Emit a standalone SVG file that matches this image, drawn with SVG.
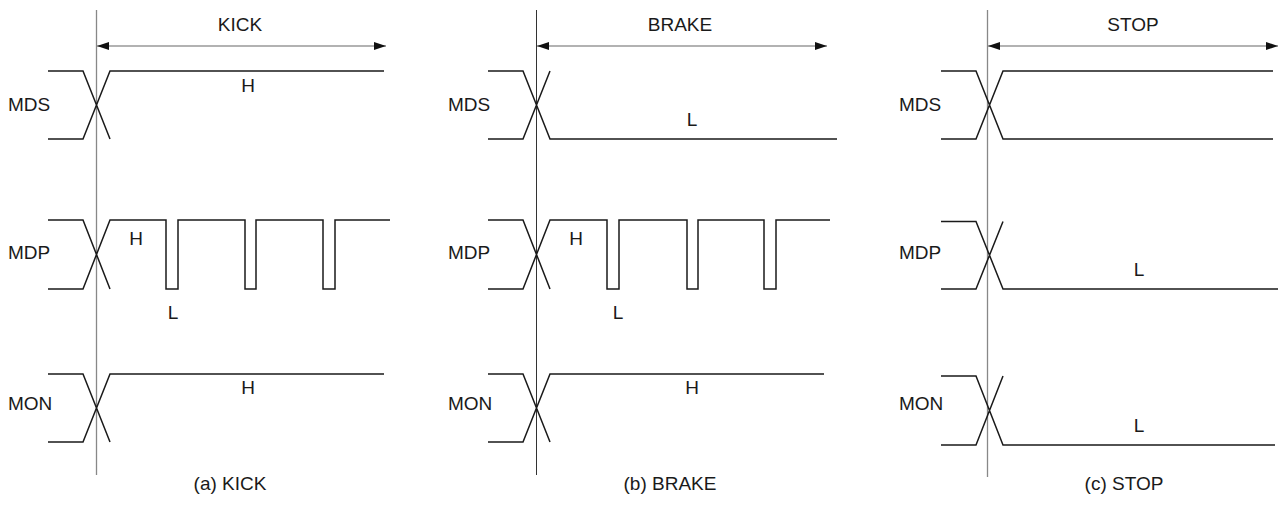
<svg xmlns="http://www.w3.org/2000/svg" width="1285" height="519" viewBox="0 0 1285 519">
<style>
text{font-family:"Liberation Sans",Arial,sans-serif;font-size:19px;fill:#1a1a1a}
.c{text-anchor:middle}
.sig{fill:none;stroke:#1a1a1a;stroke-width:1.5}
.vl{stroke:#888;stroke-width:1.3}
.vb{stroke:#333;stroke-width:1}
.ar{stroke:#999;stroke-width:1.5;marker-start:url(#ah);marker-end:url(#ah)}
</style>
<defs>
<marker id="ah" viewBox="0 0 12 8" refX="12" refY="4" markerWidth="12" markerHeight="8" markerUnits="userSpaceOnUse" orient="auto-start-reverse">
<path d="M0,0 L12,4 L0,8 Z" fill="#111"/>
</marker>
</defs>
<g id="connectors">
<line class="vl" x1="96.5" y1="10" x2="96.5" y2="475"/>
<line class="ar" x1="97" y1="46" x2="386" y2="46"/>
<line class="vb" x1="536.5" y1="10" x2="536.5" y2="475"/>
<line class="ar" x1="537" y1="46" x2="827" y2="46"/>
<line class="vl" x1="987.5" y1="10" x2="987.5" y2="477"/>
<line class="ar" x1="988" y1="46" x2="1278" y2="46"/>
</g>
<g id="panel-a">
<text class="c" x="240" y="31">KICK</text>
<g id="a-mds">
<text x="8" y="111">MDS</text>
<path class="sig" d="M48,71 H83 L110,139 M48,139 H83 L110,71 H384"/>
<text class="c" x="248" y="92">H</text>
</g>
<g id="a-mdp">
<text x="8" y="259">MDP</text>
<path class="sig" d="M48,220 H83 L110,289 M48,289 H83 L110,220 H166 V289 H178 V220 H245 V289 H256 V220 H323 V289 H335 V220 H390"/>
<text class="c" x="136" y="245">H</text>
<text class="c" x="173" y="319">L</text>
</g>
<g id="a-mon">
<text x="8" y="410">MON</text>
<path class="sig" d="M48,374 H83 L110,442 M48,442 H83 L110,374 H384"/>
<text class="c" x="248" y="394">H</text>
</g>
<text class="c" x="230" y="490">(a) KICK</text>
</g>
<g id="panel-b">
<text class="c" x="680" y="31">BRAKE</text>
<g id="b-mds">
<text x="448" y="111">MDS</text>
<path class="sig" d="M488,71 H523 L550,139 H837 M488,139 H523 L550,71"/>
<text class="c" x="692" y="126">L</text>
</g>
<g id="b-mdp">
<text x="448" y="259">MDP</text>
<path class="sig" d="M488,220 H523 L550,289 M488,289 H523 L550,220 H607 V289 H619 V220 H687 V289 H698 V220 H764 V289 H776 V220 H830"/>
<text class="c" x="576" y="245">H</text>
<text class="c" x="618" y="319">L</text>
</g>
<g id="b-mon">
<text x="448" y="410">MON</text>
<path class="sig" d="M488,374 H523 L550,442 M488,442 H523 L550,374 H824"/>
<text class="c" x="692" y="394">H</text>
</g>
<text class="c" x="670" y="490">(b) BRAKE</text>
</g>
<g id="panel-c">
<text class="c" x="1133" y="31">STOP</text>
<g id="c-mds">
<text x="899" y="111">MDS</text>
<path class="sig" d="M941,71 H976 L1003,139 H1273 M941,139 H976 L1003,71 H1273"/>
</g>
<g id="c-mdp">
<text x="899" y="259">MDP</text>
<path class="sig" d="M941,221.5 H976 L1003,289 H1278 M941,289 H976 L1003,221.5"/>
<text class="c" x="1139" y="276">L</text>
</g>
<g id="c-mon">
<text x="899" y="410">MON</text>
<path class="sig" d="M941,376 H976 L1003,445 H1275 M941,445 H976 L1003,376"/>
<text class="c" x="1139" y="432">L</text>
</g>
<text class="c" x="1124" y="490">(c) STOP</text>
</g>
</svg>
